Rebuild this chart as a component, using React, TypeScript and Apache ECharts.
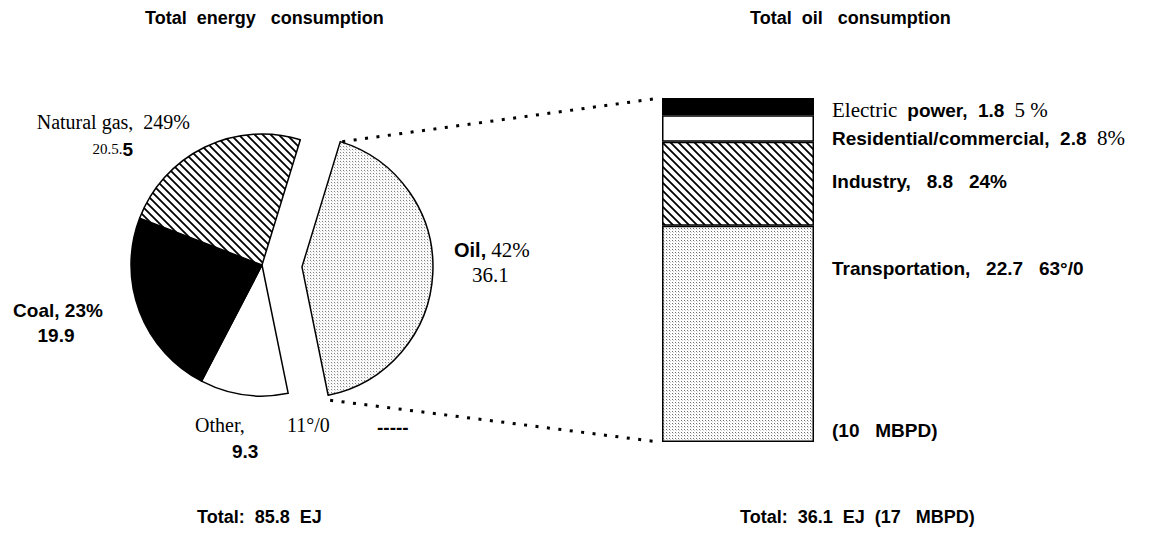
import React, { useEffect, useRef } from "react";
import * as echarts from "echarts";

// ---- data ----
const energyNames = ["Oil", "Other", "Coal", "Natural gas"];
const energyValues = [36.1, 9.3, 19.9, 20.5];
const energyPctText = ["42%", "11°/0", "23%", "249%"];
const oilUses = ["Transportation", "Industry", "Residential/commercial", "Electric power"];
const oilValues = [22.7, 8.8, 2.8, 1.8];
const oilPctText = ["63°/0", "24%", "8%", "5 %"];
const panelTitles = ["Total  energy   consumption", "Total  oil   consumption"];
const totalTexts = ["Total:  85.8  EJ", "Total:  36.1  EJ  (17   MBPD)"];
const transportNote = "(10   MBPD)";

const SANS = "'Liberation Sans', Arial, sans-serif";
const SERIF = "'Liberation Serif', 'Times New Roman', serif";

function makeHatch(): HTMLCanvasElement {
  const c = document.createElement("canvas");
  c.width = 8;
  c.height = 8;
  const g = c.getContext("2d")!;
  g.fillStyle = "#fff";
  g.fillRect(0, 0, 8, 8);
  g.strokeStyle = "#000";
  g.lineWidth = 1.8;
  g.beginPath();
  g.moveTo(-2, -2);
  g.lineTo(10, 10);
  g.moveTo(-2, 6);
  g.lineTo(2, 10);
  g.moveTo(6, -2);
  g.lineTo(10, 2);
  g.stroke();
  return c;
}

function makeStipple(): HTMLCanvasElement {
  const c = document.createElement("canvas");
  c.width = 6;
  c.height = 6;
  const g = c.getContext("2d")!;
  g.fillStyle = "#ffffff";
  g.fillRect(0, 0, 6, 6);
  g.fillStyle = "#6e6e6e";
  g.fillRect(0, 0, 1, 1);
  g.fillRect(3, 0, 1, 1);
  g.fillRect(0, 3, 1, 1);
  g.fillRect(3, 3, 1, 1);
  g.fillStyle = "#cfcfcf";
  g.fillRect(1, 1, 1, 1);
  g.fillRect(4, 4, 1, 1);
  g.fillRect(4, 1, 1, 1);
  g.fillRect(1, 4, 1, 1);
  return c;
}

export default function App() {
  const ref = useRef<HTMLDivElement>(null);

  useEffect(() => {
    document.body.style.margin = "0";
    if (!ref.current) return;
    const chart = echarts.init(ref.current, undefined, { renderer: "svg" });

    const hatch = { image: makeHatch(), repeat: "repeat" } as any;
    const stipple = { image: makeStipple(), repeat: "repeat" } as any;

    const pieFills = [stipple, "#ffffff", "#000000", hatch];
    const barFills = [stipple, hatch, "#ffffff", "#000000"];

    const pieCenter = [262, 265];
    const pieR = 131;
    const startAngle = 73;
    const explode = 40;

    const gridLeft = 662;
    const gridTop = 98;
    const gridW = 152;
    const gridH = 344;

    // connector geometry derived from pie layout
    const total = energyValues.reduce((a, b) => a + b, 0);
    const oilSpan = (360 * energyValues[0]) / total;
    const endAngle = startAngle - oilSpan;
    const mid = ((startAngle + endAngle) / 2) * (Math.PI / 180);
    const ox = pieCenter[0] + explode * Math.cos(mid);
    const oy = pieCenter[1] - explode * Math.sin(mid);
    const a1 = (startAngle * Math.PI) / 180;
    const a2 = (endAngle * Math.PI) / 180;
    const p1 = [ox + pieR * Math.cos(a1), oy - pieR * Math.sin(a1)];
    const p2 = [ox + pieR * Math.cos(a2), oy - pieR * Math.sin(a2)];

    const dotStyle = { stroke: "#000", lineWidth: 3, lineDash: [3, 8.5] };

    const txt = (x: number, y: number, text: string, font: any, align = "left", rich?: any) => ({
      type: "text",
      silent: true,
      style: {
        x,
        y,
        text,
        fill: "#000",
        fontFamily: font.family,
        fontSize: font.size,
        fontWeight: font.weight || "normal",
        align,
        textAlign: align,
        verticalAlign: "middle",
        textVerticalAlign: "middle",
        rich,
      },
    });

    const bold = (size: number) => ({ family: SANS, size, weight: "bold" });
    const serif = (size: number) => ({ family: SERIF, size, weight: "normal" });

    const richDef = {
      s: { fontFamily: SERIF, fontSize: 21, fontWeight: "normal", fill: "#000" },
      b: { fontFamily: SANS, fontSize: 19, fontWeight: "bold", fill: "#000" },
      sm: { fontFamily: SERIF, fontSize: 15, fontWeight: "normal", fill: "#000" },
    };

    const [elecA, elecB] = oilUses[3].split(" ");

    const graphics: any[] = [
      // titles
      txt(145, 18, panelTitles[0], bold(18)),
      txt(750, 18, panelTitles[1], bold(18)),
      txt(197, 517, totalTexts[0], bold(18)),
      txt(740, 517, totalTexts[1], bold(18)),
      // pie labels
      txt(190, 122, `${energyNames[3]},  ${energyPctText[3]}`, serif(20), "right"),
      txt(133, 149, `{sm|${String(energyValues[3])}.}{b|5}`, serif(15), "right", richDef),
      txt(58, 310, `${energyNames[2]}, ${energyPctText[2]}`, bold(19), "center"),
      txt(56, 335, String(energyValues[2]), bold(19), "center"),
      txt(454, 250, `{b|${energyNames[0]},} {s|${energyPctText[0]}}`, serif(20), "left", {
        ...richDef,
        b: { ...richDef.b, fontSize: 20 },
        s: { ...richDef.s, fontSize: 21 },
      }),
      txt(472, 275, String(energyValues[0]), serif(21)),
      txt(195, 425, `${energyNames[1]},`, serif(20)),
      txt(287, 425, energyPctText[1], serif(20)),
      txt(232, 451, String(energyValues[1]), bold(19)),
      txt(377, 427, "-----", bold(19)),
      // bar labels
      txt(
        832,
        110,
        `{s|${elecA}}  {b|${elecB},  ${oilValues[3]}}  {s|${oilPctText[3]}}`,
        serif(20),
        "left",
        richDef
      ),
      txt(832, 138, `{b|${oilUses[2]},  ${oilValues[2]}}  {s|${oilPctText[2]}}`, bold(19), "left", richDef),
      txt(832, 181, `${oilUses[1]},   ${oilValues[1]}   ${oilPctText[1]}`, bold(19)),
      txt(832, 268, `${oilUses[0]},   ${oilValues[0]}   ${oilPctText[0]}`, bold(19)),
      txt(832, 430, transportNote, bold(19)),
      // connectors
      {
        type: "line",
        silent: true,
        shape: { x1: p1[0] + 2, y1: p1[1], x2: gridLeft - 9, y2: gridTop + 1 },
        style: dotStyle,
      },
      {
        type: "line",
        silent: true,
        shape: { x1: p2[0] + 2, y1: p2[1] + 5, x2: gridLeft - 3, y2: gridTop + gridH },
        style: dotStyle,
      },
    ];

    chart.setOption({
      animation: false,
      backgroundColor: "#ffffff",
      grid: { left: gridLeft, top: gridTop, width: gridW, height: gridH },
      xAxis: { type: "category", data: ["oil"], show: false },
      yAxis: { type: "value", min: 0, max: 36.1, show: false },
      series: [
        {
          type: "pie",
          center: pieCenter,
          radius: pieR,
          startAngle,
          clockwise: true,
          selectedMode: "single",
          selectedOffset: explode,
          silent: true,
          label: { show: false },
          labelLine: { show: false },
          emphasis: { disabled: true },
          itemStyle: { borderColor: "#000", borderWidth: 1.5 },
          select: { itemStyle: { borderColor: "#000", borderWidth: 1.5 } },
          data: energyNames.map((n, i) => ({
            name: n,
            value: energyValues[i],
            selected: i === 0,
            itemStyle: { color: pieFills[i] },
            select: { itemStyle: { color: pieFills[i], borderColor: "#000", borderWidth: 1.5 } },
          })),
        },
        ...oilUses.map((n, i) => ({
          type: "bar",
          name: n,
          stack: "oil",
          barWidth: "100%",
          silent: true,
          data: [oilValues[i]],
          itemStyle: { color: barFills[i], borderColor: "#000", borderWidth: 1.5 },
          emphasis: { disabled: true },
        })),
      ],
      graphic: graphics,
    });

    return () => chart.dispose();
  }, []);

  return <div ref={ref} style={{ width: 1165, height: 546 }} />;
}
